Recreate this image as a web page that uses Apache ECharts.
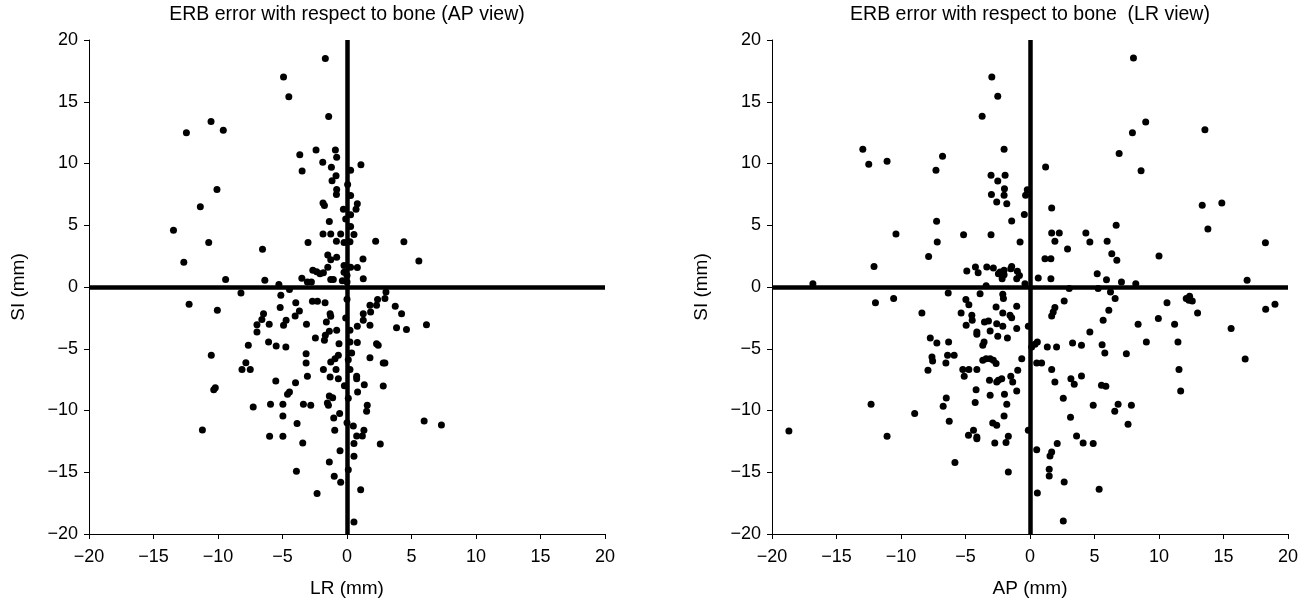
<!DOCTYPE html>
<html>
<head>
<meta charset="utf-8">
<script src="https://cdn.jsdelivr.net/npm/echarts@6/dist/echarts.min.js"></script>
<style>
  html, body { margin: 0; padding: 0; background: #fff; }
  #chart { width: 1316px; height: 607px; }
</style>
</head>
<body>
<div id="chart"></div>
<script>
// ERB error relative to bone, in mm.
// AP view: [LR, SI] pairs
const apViewPoints = [
  [-1.68,18.5],[-4.92,17.0],[-4.51,15.4],[-1.42,13.8],[-10.54,13.4],[-12.45,12.5],[-9.59,12.7],[-2.40,11.1],
  [-3.66,10.7],[-0.90,11.1],[-0.80,10.5],[-1.88,10.1],[-3.48,9.4],[-1.21,9.7],[-0.85,9.0],[-1.16,8.6],
  [-10.08,7.9],[-0.80,7.9],[-0.82,7.5],[-11.37,6.5],[-1.86,6.8],[-1.75,6.6],[-0.28,6.3],[-1.37,5.3],
  [-13.45,4.6],[-1.86,4.3],[-1.26,4.3],[-0.49,4.3],[-10.72,3.6],[-3.02,3.6],[-0.82,3.7],[-0.23,3.6],
  [-6.55,3.05],[-12.65,2.0],[-1.49,2.6],[-1.26,2.2],[-0.80,2.4],[-2.65,1.35],[-2.35,1.24],[-2.09,1.08],
  [-1.83,1.16],[-1.49,1.6],[-0.23,1.75],[-0.23,1.2],[-9.41,0.6],[-6.37,0.54],[-5.28,0.2],[-3.5,0.7],
  [-3.07,0.4],[-2.76,0.4],[-1.26,0.6],[-1.06,0.6],[-0.36,0.5],
  [1.08,9.9],[0.28,9.45],[0.28,7.4],[0.80,6.75],[0.70,6.3],[0.28,5.85],[0.28,4.9],[0.54,4.26],
  [2.22,3.7],[4.41,3.67],[0.23,3.67],[5.57,2.1],[1.24,2.27],[0.80,1.57],[0.28,1.6],[1.26,0.67],[0.0,0.94],
  [-4.46,-0.21],[-8.22,-0.48],[-5.13,-0.67],[-12.24,-1.40],[-10.05,-1.89],[-3.97,-1.27],[-2.68,-1.16],
  [-2.29,-1.16],[-1.70,-1.27],[-5.18,-1.67],[-3.69,-1.95],[-4.02,-2.35],[-6.47,-2.16],[-6.60,-2.64],
  [-6.98,-3.05],[-6.98,-3.64],[-6.03,-3.02],[-4.92,-3.1],[-4.72,-2.7],[-3.14,-3.02],[-1.31,-2.16],
  [-1.26,-2.37],[-1.60,-2.83],[-0.80,-3.5],[-1.37,-3.59],[-1.68,-3.91],[-1.75,-4.31],[-2.45,-4.13],
  [-7.65,-4.72],[-6.08,-4.45],[-5.49,-4.78],[-4.74,-4.86],[-0.62,-4.59],[-10.52,-5.53],[-3.17,-5.4],
  [-3.17,-6.15],[-0.93,-5.8],[-0.67,-5.53],[-1.26,-6.07],[-7.84,-6.13],[-8.14,-6.69],[-7.5,-6.69],
  [-1.83,-6.69],[-0.85,-6.69],[-3.07,-7.23],[-1.31,-7.29],[-0.67,-7.42],[-5.52,-7.61],[-3.99,-7.75],
  [-10.21,-8.15],[-10.33,-8.31],[-4.46,-8.5],[-4.61,-8.69],[-1.11,-8.96],[-1.37,-8.83],[-1.44,-9.58],
  [-1.52,-9.39],[-7.27,-9.71],[-5.93,-9.5],[-4.97,-9.5],[-3.38,-9.5],[-2.81,-9.58],[-0.57,-10.25],
  [-1.03,-10.6],[-4.97,-10.44],[-3.87,-11.06],[-11.21,-11.58],[-0.95,-11.6],[-6.0,-12.09],[-4.97,-12.09],
  [-3.43,-12.63],[-0.54,-13.25],[-1.37,-14.17],[-3.92,-14.92],[-0.99,-15.33],[-0.49,-15.8],[-2.32,-16.73],
  [3.02,-0.4],[2.94,-0.94],[2.37,-1.02],[1.78,-1.48],[1.83,-2.02],[1.26,-2.16],[1.26,-2.70],[2.29,-1.48],
  [3.74,-1.56],[4.23,-2.16],[6.16,-3.05],[3.84,-3.29],[4.61,-3.45],[1.78,-3.1],[0.80,-3.18],[0.23,-3.5],
  [0.80,-4.5],[2.29,-4.59],[2.42,-4.72],[0.23,-4.45],[0.36,-5.34],[1.78,-5.72],[2.81,-6.15],[2.94,-6.15],
  [0.23,-6.69],[0.75,-7.23],[0.75,-7.42],[1.34,-7.91],[2.81,-8.01],[0.82,-8.5],[1.57,-9.58],[1.52,-10.07],
  [5.98,-10.85],[7.32,-11.17],[0.49,-11.25],[0.75,-12.06],[1.19,-12.06],[1.31,-11.6],[0.54,-12.68],
  [2.58,-12.71],[0.54,-13.71],[0.1,-14.79],[1.06,-16.41],[0.54,-19.03],
  [0.0,-1.0],[-0.1,-2.5],[0.1,-5.9],[-0.2,-8.0],[0.1,-9.0],[0.0,-11.0],[-0.1,5.5],[0.05,8.3],[0.0,0.4]
];

// LR view: [AP, SI] pairs
const lrViewPoints = [
  [-16.83,0.27],[-12.96,11.15],[-12.5,9.93],[-11.08,10.18],[-12.09,1.67],[-10.39,4.29],[-7.86,2.46],
  [-7.29,9.45],[-6.78,10.58],[-7.24,5.32],[-7.19,3.64],[-5.15,4.24],[-4.90,1.30],[-4.23,1.62],[-4.02,1.16],
  [-3.35,1.62],[-2.96,17.0],[-2.5,15.44],[-3.71,13.82],[-3.02,9.04],[-2.5,8.58],[-2.99,7.48],[-2.58,6.88],
  [-3.02,4.24],[-2.84,1.54],[-2.45,1.08],
  [-2.01,11.15],[-1.93,9.04],[-1.98,7.96],[-2.01,7.42],[-1.80,6.75],[-1.42,5.34],[-0.77,3.64],[-0.44,5.88],
  [-0.34,7.42],[-0.21,7.88],[1.21,9.72],[1.68,6.40],[1.68,4.37],[2.27,4.37],[1.93,3.70],[2.91,3.08],
  [1.16,2.29],[1.62,2.29],[0.64,0.73],[1.62,0.67],[4.33,4.37],[4.64,3.64],[5.98,3.70],[6.68,4.99],
  [6.34,2.70],[6.73,2.16],[5.21,1.08],[5.93,0.59],[7.09,0.40],[8.20,0.27],[8.02,18.54],[8.97,13.36],
  [7.94,12.50],[6.91,10.80],[8.61,9.42],[10.0,2.51],[13.56,12.74],[13.35,6.61],[14.87,6.80],[13.79,4.70],
  [18.25,3.59],[16.83,0.54],[-2.32,1.21],[-2.01,1.35],[-2.16,0.67],[-2.01,1.0],[-1.42,1.67],[-1.49,1.48],
  [-0.98,1.27],[-0.82,0.94],[-1.03,0.67],[-0.39,0.27],
  [-18.69,-11.66],[-11.98,-1.27],[-10.57,-0.94],[-8.38,-2.10],[-7.73,-4.13],[-7.22,-4.53],[-6.31,-4.45],
  [-7.60,-5.67],[-7.55,-5.99],[-7.91,-6.75],[-6.52,-6.15],[-6.39,-5.53],[-5.88,-5.53],[-6.34,-0.48],
  [-12.32,-9.5],[-11.08,-12.09],[-8.94,-10.25],[-6.73,-9.66],[-6.49,-8.99],[-6.26,-10.87],[-5.82,-14.22],
  [-5.34,-2.10],[-4.97,-1.02],[-4.74,-1.43],[-4.51,-2.29],[-4.48,-2.70],[-4.95,-3.10],[-4.12,-3.64],
  [-4.12,-3.83],[-3.56,-4.45],[-3.66,-4.72],[-3.53,-2.83],[-3.22,-2.75],[-3.09,-3.56],[-2.63,-1.62],
  [-2.58,-2.97],[-2.5,-3.99],[-3.87,-0.54],[-5.21,-6.69],[-4.74,-6.69],[-4.12,-6.69],[-5.10,-7.23],
  [-3.66,-5.94],[-3.40,-5.8],[-3.09,-5.8],[-2.84,-5.94],[-2.63,-6.2],[-3.14,-7.55],[-2.58,-7.69],
  [-4.18,-8.31],[-3.09,-8.77],[-4.25,-9.36],[-4.38,-11.6],[-4.12,-12.14],[-4.12,-12.28],[-4.77,-12.01],
  [-2.89,-11.01],[-2.58,-11.2],[-2.73,-12.63],[-3.4,0.1],
  [-2.11,-0.59],[-2.06,-0.94],[-1.03,-1.56],[-2.11,-2.10],[-1.55,-2.29],[-1.42,-2.48],[-2.11,-3.18],
  [-1.03,-3.37],[-1.75,-4.13],[-0.13,-3.18],[-0.64,-5.80],[-0.95,-6.75],[-1.49,-7.23],[-1.34,-7.69],
  [-2.19,-7.42],[-2.45,-7.55],[-1.03,-8.42],[-1.98,-8.69],[-1.80,-9.5],[-2.01,-10.44],[-1.86,-12.6],
  [-1.68,-12.09],[-1.68,-14.98],
  [3.04,-0.13],[5.28,-0.13],[6.24,-0.40],[6.60,-0.94],[2.65,-1.13],[1.93,-1.67],[1.80,-2.02],[1.68,-2.35],
  [6.11,-1.89],[5.67,-2.70],[4.64,-3.64],[8.38,-3.02],[9.95,-2.56],[10.62,-1.27],[11.21,-3.02],[12.11,-0.94],
  [12.37,-0.75],[12.58,-1.13],[12.32,-1.08],[12.99,-2.10],[11.47,-4.45],[15.59,-3.37],[18.27,-1.80],
  [18.99,-1.40],[16.68,-5.83],[9.02,-4.45],[7.47,-5.40],[5.59,-4.67],[5.80,-5.34],[3.30,-4.53],[3.99,-4.72],
  [2.06,-4.86],[1.34,-4.86],[0.39,-4.64],[0.57,-4.45],[0.13,-4.86],[0.52,-6.15],[0.90,-6.15],[1.68,-6.69],
  [1.93,-7.69],[3.17,-7.42],[3.43,-7.88],[3.99,-7.2],[5.54,-7.96],[5.88,-8.04],[2.58,-9.01],[4.90,-9.58],
  [6.83,-9.5],[6.57,-10.07],[7.86,-9.58],[11.55,-6.69],[11.68,-8.42],[3.14,-10.55],[7.60,-11.12],
  [3.61,-12.06],[4.12,-12.63],[4.90,-12.68],[2.11,-12.68],[0.52,-13.17],[1.68,-13.36],[1.55,-13.68],
  [1.49,-14.76],[1.49,-15.3],[2.65,-15.79],[5.36,-16.38],[0.57,-16.68],[2.58,-18.94],[-0.13,-11.6]
];

const axisMin = -20;
const axisMax = 20;
const axisStep = 5;

const titles = ['ERB error with respect to bone (AP view)', 'ERB error with respect to bone  (LR view)'];
const xNames = ['LR (mm)', 'AP (mm)'];
const yName = 'SI (mm)';

const FONT = '"Liberation Sans", Arial, sans-serif';
const minus = v => String(v).replace('-', '\u2212');

function valueAxis(gridIndex, name, isX) {
  return {
    type: 'value', gridIndex, min: axisMin, max: axisMax, interval: axisStep,
    name, nameLocation: 'middle', nameGap: isX ? 45 : 61,
    nameTextStyle: { color: '#000', fontSize: 19, fontFamily: FONT },
    axisLine: { show: true, onZero: false, lineStyle: { color: '#000', width: 1 } },
    axisTick: { show: true, inside: false, length: 5, lineStyle: { color: '#000', width: 1 } },
    axisLabel: { color: '#000', fontSize: 18, fontFamily: FONT, margin: isX ? 14 : 11, formatter: minus },
    splitLine: { show: false }
  };
}

function scatter(idx, data) {
  return {
    type: 'scatter', xAxisIndex: idx, yAxisIndex: idx, data,
    symbol: 'circle', symbolSize: 7,
    itemStyle: { color: '#000', opacity: 1 },
    markLine: {
      silent: true, symbol: 'none', animation: false,
      label: { show: false },
      lineStyle: { color: '#000', width: 4.5, type: 'solid', opacity: 1 },
      data: [{ xAxis: 0 }, { yAxis: 0 }]
    },
    z: 3
  };
}

const chart = echarts.init(document.getElementById('chart'), null, { renderer: 'canvas' });
chart.setOption({
  animation: false,
  backgroundColor: '#fff',
  grid: [
    { left: 89, top: 40, width: 516, height: 494 },
    { left: 772, top: 40, width: 516, height: 494 }
  ],
  xAxis: [valueAxis(0, xNames[0], true), valueAxis(1, xNames[1], true)],
  yAxis: [valueAxis(0, yName, false), valueAxis(1, yName, false)],
  graphic: [
    { type: 'text', x: 347, y: 15, style: { text: titles[0], textAlign: 'center', textVerticalAlign: 'middle', font: '19.5px ' + FONT, fill: '#000' } },
    { type: 'text', x: 1030, y: 15, style: { text: titles[1], textAlign: 'center', textVerticalAlign: 'middle', font: '19.5px ' + FONT, fill: '#000' } }
  ],
  series: [scatter(0, apViewPoints), scatter(1, lrViewPoints)]
});
</script>
</body>
</html>
